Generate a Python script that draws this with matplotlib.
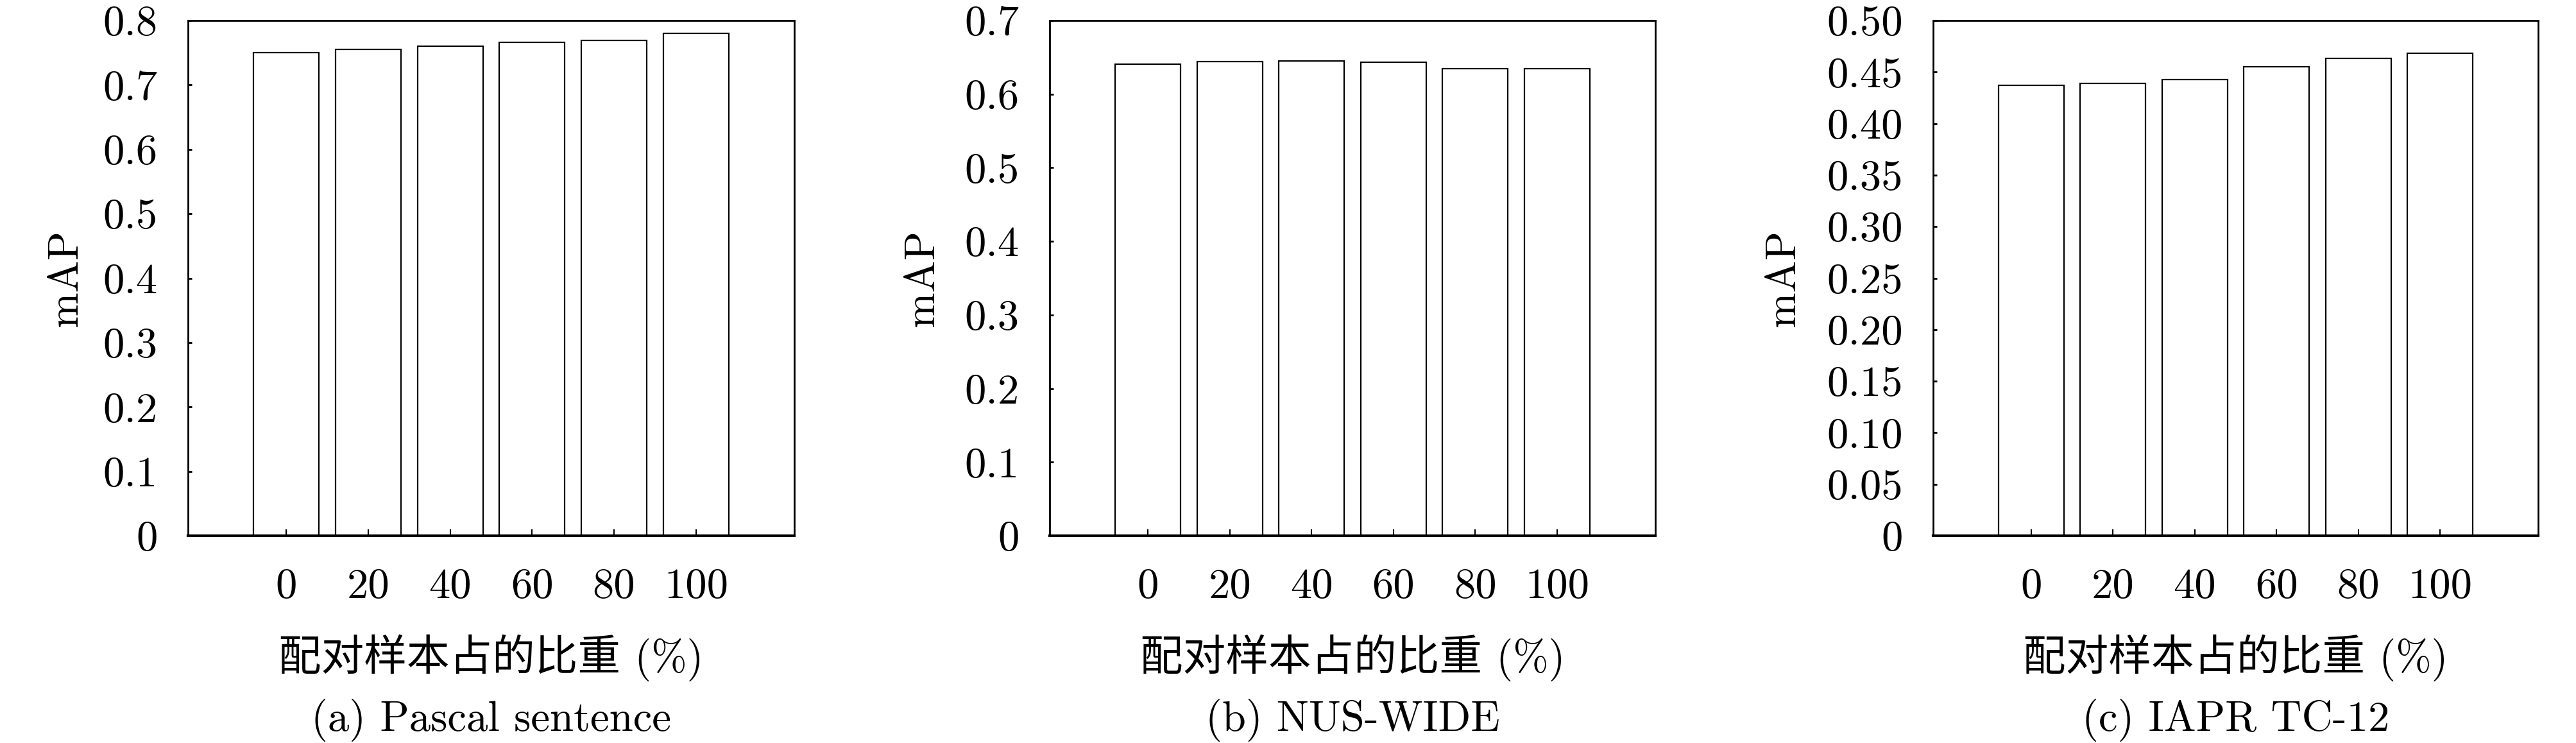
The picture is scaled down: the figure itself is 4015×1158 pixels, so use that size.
import matplotlib

matplotlib.use("Agg")

import matplotlib.pyplot as plt

plt.rcParams["font.family"] = ["cmr10", "Noto Sans CJK SC"]
plt.rcParams["axes.unicode_minus"] = False
plt.rcParams["axes.formatter.use_mathtext"] = True

# ---- data ----
categories = ["0", "20", "40", "60", "80", "100"]

pascal_map = [0.750, 0.755, 0.760, 0.766, 0.769, 0.780]
nus_map = [0.641, 0.644, 0.645, 0.643, 0.635, 0.635]
iapr_map = [0.437, 0.439, 0.443, 0.455, 0.463, 0.468]

pascal_ticks = [0, 0.1, 0.2, 0.3, 0.4, 0.5, 0.6, 0.7, 0.8]
pascal_labels = ["0", "0.1", "0.2", "0.3", "0.4", "0.5", "0.6", "0.7", "0.8"]
nus_ticks = [0, 0.1, 0.2, 0.3, 0.4, 0.5, 0.6, 0.7]
nus_labels = ["0", "0.1", "0.2", "0.3", "0.4", "0.5", "0.6", "0.7"]
iapr_ticks = [0, 0.05, 0.10, 0.15, 0.20, 0.25, 0.30, 0.35, 0.40, 0.45, 0.50]
iapr_labels = ["0", "0.05", "0.10", "0.15", "0.20", "0.25", "0.30",
               "0.35", "0.40", "0.45", "0.50"]

captions = ["(a) Pascal sentence", "(b) NUS-WIDE", "(c) IAPR TC-12"]
xlabel = "配对样本占的比重 (%)"
ylabel = "mAP"

# ---- layout (pixel geometry of the 4016x1158 reference) ----
W, H = 4016, 1158
axes_left = [293, 1636, 3013]
axes_width = [945, 944, 943]
axes_top, axes_bottom = 32, 835
ylabel_offset = [160, 168, 203]
FS = 48

fig = plt.figure(figsize=(W / 100, H / 100), dpi=100)

panels = [
    (pascal_map, pascal_ticks, pascal_labels),
    (nus_map, nus_ticks, nus_labels),
    (iapr_map, iapr_ticks, iapr_labels),
]

for i, (values, ticks, tick_labels) in enumerate(panels):
    rect = [
        axes_left[i] / W,
        (H - axes_bottom) / H,
        axes_width[i] / W,
        (axes_bottom - axes_top) / H,
    ]
    ax = fig.add_axes(rect)
    x = list(range(len(categories)))
    ax.bar(x, values, width=0.8, color="white", edgecolor="black", linewidth=1.6)

    ax.set_xlim(-1.2, len(categories) + 0.2)
    ax.set_ylim(ticks[0], ticks[-1])
    ax.set_xticks(x)
    ax.set_xticklabels(categories, fontsize=FS)
    ax.set_yticks(ticks)
    ax.set_yticklabels(tick_labels, fontsize=FS)

    ax.tick_params(axis="x", direction="in", length=7, width=1.5, pad=36,
                   top=False)
    ax.tick_params(axis="y", direction="in", length=4, width=2, pad=34,
                   right=False)
    for spine in ax.spines.values():
        spine.set_linewidth(2)
    ax.spines["bottom"].set_linewidth(3)

    ax.set_xlabel(xlabel, fontsize=FS, labelpad=32)
    ax.set_ylabel(ylabel, fontsize=FS)
    ax.yaxis.set_label_coords(-ylabel_offset[i] / axes_width[i], 0.5)

    cx = (axes_left[i] + axes_width[i] / 2) / W
    fig.text(cx, 1 - 1122 / H, captions[i], fontsize=FS, ha="center", va="center")

fig.savefig("out.png", dpi=100)
